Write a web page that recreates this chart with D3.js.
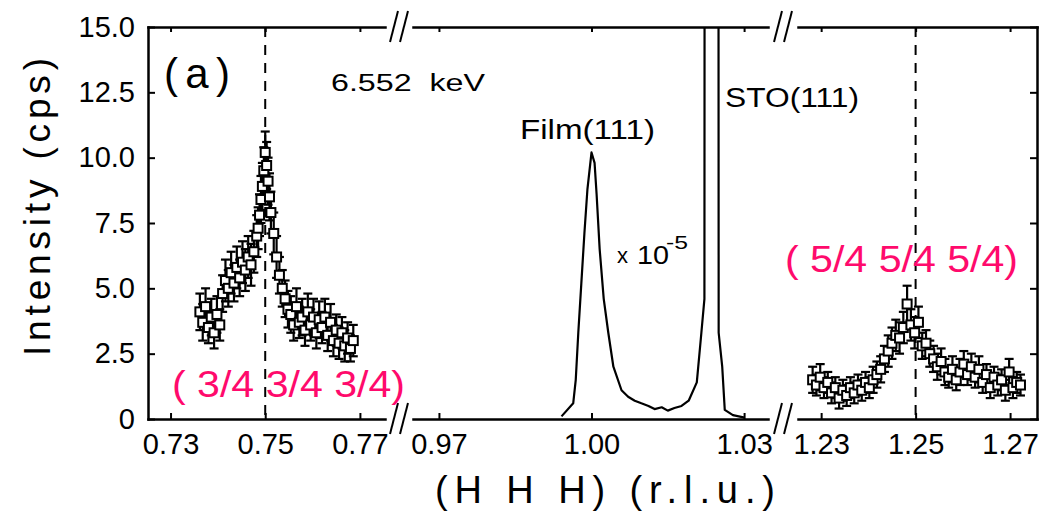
<!DOCTYPE html>
<html>
<head>
<meta charset="utf-8">
<script src="https://cdn.jsdelivr.net/npm/d3@7"></script>
<style>
  body { margin: 0; background: #fff; }
  svg { display: block; font-family: "Liberation Sans", Arial, sans-serif; }
</style>
</head>
<body>
<svg></svg>
<script>
const width = 1044, height = 515;
const svg = d3.select("svg").attr("width", width).attr("height", height);

// (3/4 3/4 3/4) superlattice scan
const h1 = [0.7362, 0.7368, 0.7374, 0.7380, 0.7386, 0.7392, 0.7398, 0.7404, 0.7410, 0.7416,
  0.7422, 0.7428, 0.7434, 0.7440, 0.7446, 0.7452, 0.7458, 0.7464, 0.7470, 0.7476,
  0.7482, 0.7485, 0.7488, 0.7491, 0.7494, 0.7497, 0.7500, 0.7503, 0.7506, 0.7509,
  0.7512, 0.7518, 0.7524, 0.7530, 0.7536, 0.7542, 0.7548, 0.7554, 0.7560, 0.7566,
  0.7572, 0.7578, 0.7584, 0.7590, 0.7596, 0.7602, 0.7608, 0.7614, 0.7620, 0.7626,
  0.7632, 0.7638, 0.7644, 0.7650, 0.7656, 0.7662, 0.7668, 0.7674, 0.7680, 0.7686];
const int1 = [4.1, 3.7, 4.3, 3.5, 3.9, 3.3, 4.0, 3.6, 4.8, 5.3,
  5.0, 5.6, 5.2, 5.8, 5.4, 6.0, 5.7, 6.2, 5.9, 6.4,
  7.0, 7.3, 7.8, 8.4, 8.9, 9.5, 10.2, 9.7, 9.1, 8.5,
  7.9, 7.1, 6.2, 5.5, 5.0, 4.6, 4.2, 4.0, 3.6, 4.3,
  3.7, 3.9, 3.4, 4.1, 3.6, 3.9, 3.3, 3.8, 3.5, 3.9,
  3.2, 3.7, 3.0, 3.4, 2.9, 3.3, 2.8, 3.1, 2.7, 3.0];
const err1 = [0.7, 0.7, 0.7, 0.6, 0.7, 0.6, 0.7, 0.6, 0.7, 0.8,
  0.7, 0.8, 0.7, 0.8, 0.7, 0.8, 0.8, 0.8, 0.8, 0.8,
  0.8, 0.8, 0.8, 0.9, 0.9, 0.9, 0.8, 0.9, 0.9, 0.9,
  0.8, 0.8, 0.8, 0.7, 0.7, 0.7, 0.7, 0.7, 0.6, 0.7,
  0.6, 0.7, 0.6, 0.7, 0.6, 0.7, 0.6, 0.7, 0.6, 0.7,
  0.6, 0.7, 0.6, 0.6, 0.6, 0.6, 0.6, 0.6, 0.5, 0.6];

// film (111) and STO (111) Bragg peaks, scaled x 10^-5
const filmH = [0.9941, 0.9964, 0.9969, 0.9974, 0.9980, 0.9986, 0.9992, 1.0000, 1.0006, 1.0010,
  1.0016, 1.0024, 1.0033, 1.0043, 1.0059, 1.0072, 1.0085, 1.0098, 1.0112, 1.0124,
  1.0138, 1.0150, 1.0163, 1.0177, 1.0191, 1.0207, 1.0216, 1.0222, 1.0236, 1.0250,
  1.0257, 1.0262, 1.0278, 1.0301];
const filmInt = [0.1, 0.6, 1.5, 3.3, 5.2, 7.1, 8.8, 10.2, 9.8, 8.6,
  6.5, 4.6, 3.3, 2.0, 1.1, 0.85, 0.7, 0.6, 0.5, 0.38,
  0.45, 0.32, 0.42, 0.5, 0.7, 1.4, 3.3, 4.6, 600, 3.3,
  2.0, 0.35, 0.15, 0.05];

// (5/4 5/4 5/4) superlattice scan
const h3 = [1.2282, 1.2290, 1.2298, 1.2306, 1.2314, 1.2322, 1.2330, 1.2338, 1.2346, 1.2354,
  1.2362, 1.2370, 1.2378, 1.2386, 1.2394, 1.2402, 1.2410, 1.2418, 1.2426, 1.2434,
  1.2442, 1.2450, 1.2458, 1.2466, 1.2474, 1.2482, 1.2490, 1.2498, 1.2506, 1.2514,
  1.2522, 1.2530, 1.2538, 1.2546, 1.2554, 1.2562, 1.2570, 1.2578, 1.2586, 1.2594,
  1.2602, 1.2610, 1.2618, 1.2626, 1.2634, 1.2642, 1.2650, 1.2658, 1.2666, 1.2674,
  1.2682, 1.2690, 1.2698, 1.2706, 1.2714, 1.2722];
const int3 = [1.5, 1.3, 1.6, 1.2, 1.4, 1.0, 1.2, 0.8, 1.1, 0.9,
  1.2, 1.0, 1.3, 1.1, 1.4, 1.2, 1.5, 1.7, 1.9, 2.3,
  2.6, 2.9, 3.2, 3.1, 3.5, 4.4, 3.6, 3.3, 3.7, 2.8,
  2.9, 2.5, 2.3, 2.0, 2.2, 1.8, 1.6, 1.9, 1.5, 1.8,
  2.1, 1.7, 2.0, 1.6, 1.9, 1.4, 1.7, 1.2, 1.6, 1.3,
  1.5, 1.1, 1.8, 1.2, 1.4, 1.3];
const err3 = [0.5, 0.4, 0.5, 0.4, 0.4, 0.4, 0.4, 0.4, 0.4, 0.4,
  0.4, 0.4, 0.4, 0.4, 0.4, 0.4, 0.5, 0.5, 0.5, 0.5,
  0.6, 0.6, 0.6, 0.6, 0.6, 0.7, 0.6, 0.6, 0.6, 0.5,
  0.5, 0.5, 0.5, 0.5, 0.5, 0.5, 0.4, 0.5, 0.4, 0.5,
  0.5, 0.4, 0.5, 0.4, 0.5, 0.4, 0.4, 0.4, 0.4, 0.4,
  0.4, 0.4, 0.5, 0.4, 0.4, 0.4];

const yTicks = [0, 2.5, 5, 7.5, 10, 12.5, 15];
const xTicks1 = [0.73, 0.75, 0.77];
const xTicks2 = [0.97, 1.00, 1.03];
const xTicks3 = [1.23, 1.25, 1.27];
const markerLines = [0.75, 1.25];

const plotTop = 27, plotBottom = 419, plotLeft = 148, plotRight = 1037;
const y = d3.scaleLinear().domain([0, 15]).range([plotBottom, plotTop]);

// three pieces of the broken H axis
const x1 = d3.scaleLinear().domain([0.72524, 0.7753]).range([148, 385]);
const x2 = d3.scaleLinear().domain([0.9649, 1.0347]).range([413, 768]);
const x3 = d3.scaleLinear().domain([1.2251, 1.2757]).range([798, 1037]);
const segments = [
  { x: x1, ticks: xTicks1 },
  { x: x2, ticks: xTicks2 },
  { x: x3, ticks: xTicks3 }
];

function styleAxis(g) {
  g.attr("font-family", null).attr("font-size", null);
  g.select(".domain").attr("stroke-width", 2.5).attr("stroke-linecap", "square");
  g.selectAll(".tick line").attr("stroke-width", 2);
  g.selectAll(".tick text").attr("font-size", 29).attr("fill", "#000");
}

segments.forEach(seg => {
  svg.append("g")
    .attr("transform", `translate(0,${plotBottom})`)
    .call(d3.axisBottom(seg.x).tickValues(seg.ticks)
      .tickSizeInner(-6).tickSizeOuter(0).tickPadding(14)
      .tickFormat(d3.format(".2f")))
    .call(styleAxis);

  svg.append("g")
    .attr("transform", `translate(0,${plotTop})`)
    .call(d3.axisTop(seg.x).tickValues(seg.ticks)
      .tickSizeInner(-5).tickSizeOuter(0).tickFormat(""))
    .call(styleAxis);
});

svg.append("g")
  .attr("transform", `translate(${plotLeft},0)`)
  .call(d3.axisLeft(y).tickValues(yTicks)
    .tickSizeInner(-7).tickSizeOuter(0).tickPadding(13)
    .tickFormat(d => d === 0 ? "0" : d.toFixed(1)))
  .call(styleAxis);

svg.append("g")
  .attr("transform", `translate(${plotRight},0)`)
  .call(d3.axisRight(y).tickValues(yTicks)
    .tickSizeInner(-7).tickSizeOuter(0).tickFormat(""))
  .call(styleAxis);

// axis break marks "//"
const breaks = [
  [(x1.range()[1] + x2.range()[0]) / 2, plotBottom],
  [(x2.range()[1] + x3.range()[0]) / 2, plotBottom],
  [(x1.range()[1] + x2.range()[0]) / 2, plotTop],
  [(x2.range()[1] + x3.range()[0]) / 2, plotTop]
];
breaks.forEach(([cx, cy]) => {
  [-5, 5].forEach(off => {
    svg.append("line")
      .attr("x1", cx + off - 4).attr("y1", cy + 15)
      .attr("x2", cx + off + 4).attr("y2", cy - 16)
      .attr("stroke", "#000").attr("stroke-width", 2);
  });
});

// dashed lines at the superlattice positions
[x1, x3].forEach((sx, i) => {
  svg.append("line")
    .attr("x1", sx(markerLines[i])).attr("x2", sx(markerLines[i]))
    .attr("y1", plotTop).attr("y2", plotBottom)
    .attr("stroke", "#000").attr("stroke-width", 2)
    .attr("stroke-dasharray", "10,8");
});

// Bragg peak line, clipped to its piece of the frame
svg.append("clipPath").attr("id", "clip2")
  .append("rect")
  .attr("x", x2.range()[0]).attr("y", plotTop)
  .attr("width", x2.range()[1] - x2.range()[0]).attr("height", plotBottom - plotTop);

const film = filmH.map((h, i) => [h, filmInt[i]]);
svg.append("path")
  .datum(film)
  .attr("clip-path", "url(#clip2)")
  .attr("fill", "none")
  .attr("stroke", "#000")
  .attr("stroke-width", 2.2)
  .attr("stroke-linejoin", "round")
  .attr("d", d3.line().x(d => x2(d[0])).y(d => y(d[1])));

// scan points with error bars
function drawScan(sx, hs, vals, errs) {
  const pts = hs.map((h, i) => ({ h: h, v: vals[i], e: errs[i] }));
  const g = svg.append("g").attr("stroke", "#000").attr("stroke-width", 2.2);
  const bars = g.selectAll("g.err").data(pts).enter().append("g").attr("class", "err");
  bars.append("line")
    .attr("x1", d => sx(d.h)).attr("x2", d => sx(d.h))
    .attr("y1", d => y(d.v - d.e)).attr("y2", d => y(d.v + d.e));
  bars.append("line")
    .attr("x1", d => sx(d.h) - 4.5).attr("x2", d => sx(d.h) + 4.5)
    .attr("y1", d => y(d.v + d.e)).attr("y2", d => y(d.v + d.e));
  bars.append("line")
    .attr("x1", d => sx(d.h) - 4.5).attr("x2", d => sx(d.h) + 4.5)
    .attr("y1", d => y(d.v - d.e)).attr("y2", d => y(d.v - d.e));
  g.selectAll("rect").data(pts).enter().append("rect")
    .attr("x", d => sx(d.h) - 4.5).attr("y", d => y(d.v) - 4.5)
    .attr("width", 9).attr("height", 9)
    .attr("fill", "#fff").attr("stroke-width", 2);
}
drawScan(x1, h1, int1, err1);
drawScan(x3, h3, int3, err3);

// annotations
function label(txt, xPos, yPos, size, len, color) {
  const t = svg.append("text")
    .attr("x", xPos).attr("y", yPos)
    .attr("font-size", size)
    .attr("fill", color || "#000")
    .attr("xml:space", "preserve")
    .text(txt);
  if (len) t.attr("textLength", len).attr("lengthAdjust", "spacingAndGlyphs");
  return t;
}
label("(a)", 164, 88, 42, null)
  .attr("textLength", 66).attr("lengthAdjust", "spacing");
label("6.552  keV", 331, 91, 23, 154);
label("Film(111)", 520, 139, 27, 135);
label("STO(111)", 725, 107, 27, 134);
label("x", 617, 263, 22);
label("10", 637, 264, 26, 32);
label("-5", 666, 249, 19, 22);

label("( 3/4 3/4 3/4)", 172, 397, 36, 233, "#ff0a6c");
label("( 5/4 5/4 5/4)", 785, 272, 36, 233, "#ff0a6c");

// axis titles
svg.append("text")
  .attr("transform", "translate(50,356) rotate(-90)")
  .attr("font-size", 37)
  .attr("textLength", 298)
  .attr("lengthAdjust", "spacing")
  .text("Intensity (cps)");

label("(H H H) (r.l.u.)", 435, 503, 38, null)
  .attr("textLength", 340).attr("lengthAdjust", "spacing");
</script>
</body>
</html>
